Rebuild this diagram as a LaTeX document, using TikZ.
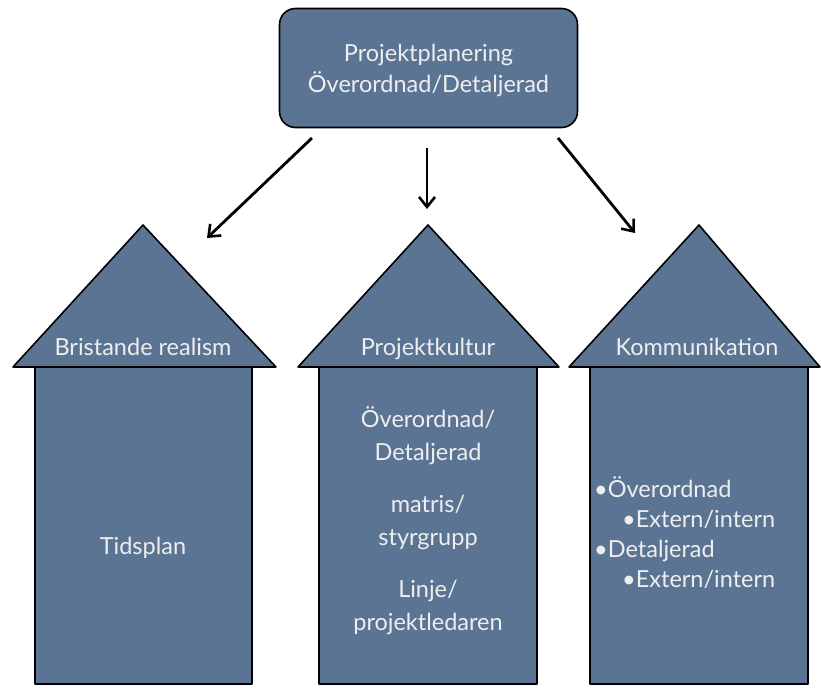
\documentclass[tikz,border=0pt]{standalone}
\usepackage{fontspec}
\setmainfont{Lato}
\usepackage{xcolor}
\usetikzlibrary{arrows.meta}
\definecolor{slate}{RGB}{91,116,148}
\definecolor{chalk}{RGB}{238,238,238}

\begin{document}
\begin{tikzpicture}[x=1pt,y=-1pt,
    house/.style={draw=black, line width=1.6pt, fill=slate, line join=round},
    txt/.style={text=chalk, font=\fontsize{23.5}{33}\selectfont, inner sep=0pt},
    pil/.style={-{Straight Barb[length=10pt,width=16pt,line width=2.6pt]}, line width=2.8pt}]
    \useasboundingbox (0,0) rectangle (821,689);

    % top box
    \node[house, rounded corners=16pt, minimum width=298pt, minimum height=119pt] (plan) at (428.5,68) {};
    \node[txt, align=center, font=\fontsize{23.5}{31}\selectfont] (plantxt) at (428.5,70) {Projektplanering\\Överordnad/Detaljerad};

    % houses
    \draw[house] (13,367) -- (143,225) -- (276,367) -- cycle;
    \draw[house] (35,367) rectangle (252,684);
    \draw[house] (298,367) -- (428,225) -- (559,367) -- cycle;
    \draw[house] (319,367) rectangle (537,684);
    \draw[house] (569,367) -- (699,225) -- (820,367) -- cycle;
    \draw[house] (590,367) rectangle (808,684);

    \node[txt, anchor=base] (realism) at (143,355) {Bristande realism};
    \node[txt, anchor=base] (kultur) at (428,355) {Projektkultur};
    \node[txt, anchor=base] (komm) at (697,355) {Kommunikation};

    \node[txt] (tidsplan) at (143,548) {Tidsplan};
    \node[txt, align=center] (kulturtxt) at (428,521)
        {Överordnad/\\Detaljerad\\[19pt]matris/\\styrgrupp\\[19pt]Linje/\\projektledaren};
    \node[txt, align=left, anchor=west, font=\fontsize{23.5}{30}\selectfont] (kommtxt) at (594,533)
        {•Överordnad\\\hspace*{28pt}•Extern/intern\\•Detaljerad\\\hspace*{28pt}•Extern/intern};

    % arrows
    \coordinate (s1) at (312,138);
    \coordinate (e1) at (207,238);
    \coordinate (s2) at (427,148);
    \coordinate (e2) at (427,209);
    \coordinate (s3) at (558,138);
    \coordinate (e3) at (635,233);
    \draw[pil] (s1) -- (e1);
    \draw[pil] (s2) -- (e2);
    \draw[pil] (s3) -- (e3);
\end{tikzpicture}
\end{document}
